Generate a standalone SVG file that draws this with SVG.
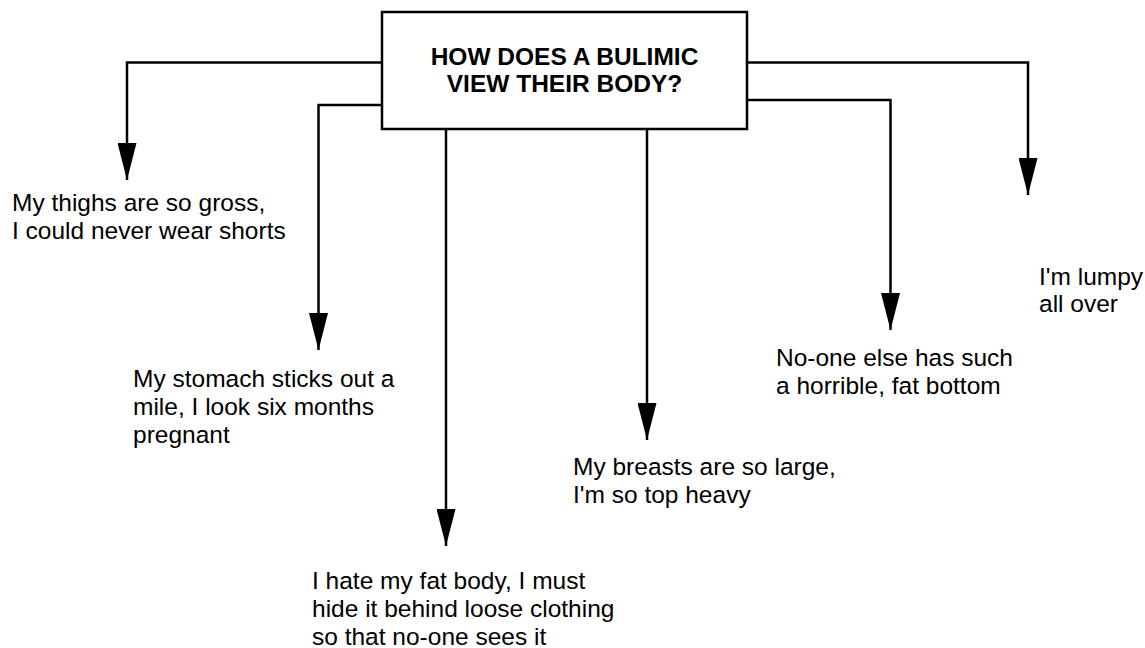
<svg xmlns="http://www.w3.org/2000/svg" width="1145" height="648" viewBox="0 0 1145 648">
<style>
.bg{fill:#fff}
.box{fill:#fff;stroke:#000;stroke-width:2.5}
.title{font-family:"Liberation Sans",Arial,sans-serif;font-weight:bold;font-size:24.5px;fill:#000;text-anchor:middle}
.lbl{font-family:"Liberation Sans",Arial,sans-serif;font-size:24.5px;fill:#000}
.conn{fill:none;stroke:#000;stroke-width:2.5;marker-end:url(#arr)}
</style>
<defs>
<marker id="arr" viewBox="0 0 37 19" refX="37" refY="9.5" markerWidth="37" markerHeight="19" markerUnits="userSpaceOnUse" orient="auto">
<path d="M0,0 L37,9.5 L0,19 Z" fill="#000"/>
</marker>
</defs>
<rect class="bg" x="0" y="0" width="1145" height="648"/>
<g id="connectors">
<path class="conn" d="M382,62.5 H127 V180"/>
<path class="conn" d="M382,105 H318.5 V350"/>
<path class="conn" d="M446,129 V546"/>
<path class="conn" d="M647,129 V440"/>
<path class="conn" d="M747,100 H890.5 V330"/>
<path class="conn" d="M747,62.5 H1028 V195"/>
</g>
<g id="center">
<rect class="box" x="382" y="12" width="365" height="117"/>
<text class="title" x="564.5" y="65">HOW DOES A BULIMIC</text>
<text class="title" x="564.5" y="92">VIEW THEIR BODY?</text>
</g>
<g id="thighs">
<text class="lbl" x="12" y="211">My thighs are so gross,</text>
<text class="lbl" x="12" y="239">I could never wear shorts</text>
</g>
<g id="stomach">
<text class="lbl" x="133" y="387">My stomach sticks out a</text>
<text class="lbl" x="133" y="415">mile, I look six months</text>
<text class="lbl" x="133" y="443">pregnant</text>
</g>
<g id="fatbody">
<text class="lbl" x="312" y="589">I hate my fat body, I must</text>
<text class="lbl" x="312" y="617">hide it behind loose clothing</text>
<text class="lbl" x="312" y="645">so that no-one sees it</text>
</g>
<g id="breasts">
<text class="lbl" x="573" y="475">My breasts are so large,</text>
<text class="lbl" x="573" y="503">I'm so top heavy</text>
</g>
<g id="bottom">
<text class="lbl" x="776" y="366">No-one else has such</text>
<text class="lbl" x="776" y="394">a horrible, fat bottom</text>
</g>
<g id="lumpy">
<text class="lbl" x="1039" y="285">I'm lumpy</text>
<text class="lbl" x="1039" y="312">all over</text>
</g>
</svg>
